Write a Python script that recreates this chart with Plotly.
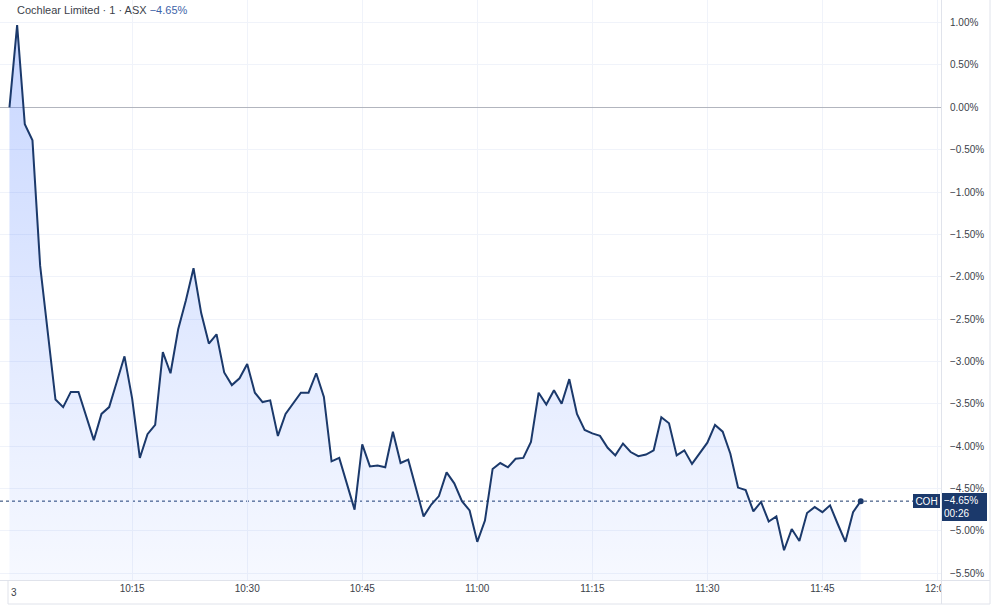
import plotly.graph_objects as go
import pandas as pd

# ---------------- data ----------------
title_name = "Cochlear Limited · 1 · ASX"
change_text = "−4.65%"
symbol = "COH"
countdown = "00:26"
day_label = "3"

start_time = "2025-01-23 09:59"
pct_change = [
    0.00, 0.97, -0.20, -0.39, -1.87, -2.69, -3.45, -3.54, -3.36, -3.36,
    -3.64, -3.93, -3.62, -3.54, -3.24, -2.94, -3.44, -4.14, -3.86, -3.75,
    -2.89, -3.14, -2.62, -2.28, -1.90, -2.43, -2.79, -2.68, -3.13, -3.28,
    -3.20, -3.03, -3.37, -3.48, -3.46, -3.88, -3.62, -3.49, -3.37, -3.37,
    -3.14, -3.42, -4.18, -4.14, -4.44, -4.75, -3.98, -4.24, -4.23, -4.25,
    -3.83, -4.20, -4.16, -4.48, -4.83, -4.69, -4.59, -4.31, -4.44, -4.65,
    -4.76, -5.13, -4.88, -4.27, -4.20, -4.25, -4.15, -4.14, -3.95, -3.37,
    -3.51, -3.34, -3.50, -3.21, -3.62, -3.81, -3.85, -3.88, -4.02, -4.11,
    -3.97, -4.07, -4.12, -4.10, -4.05, -3.66, -3.73, -4.11, -4.05, -4.21,
    -4.09, -3.96, -3.75, -3.83, -4.09, -4.49, -4.52, -4.77, -4.66, -4.89,
    -4.83, -5.23, -4.98, -5.12, -4.79, -4.72, -4.78, -4.70, -4.92, -5.13,
    -4.78, -4.65,
]
times = pd.date_range(start_time, periods=len(pct_change), freq="min")

y_ticks = [1.0, 0.5, 0.0, -0.5, -1.0, -1.5, -2.0, -2.5, -3.0, -3.5, -4.0, -4.5, -5.0, -5.5]
y_tick_labels = ["1.00%", "0.50%", "0.00%", "−0.50%", "−1.00%", "−1.50%", "−2.00%",
                 "−2.50%", "−3.00%", "−3.50%", "−4.00%", "−4.50%", "−5.00%", "−5.50%"]
x_ticks = ["2025-01-23 10:15", "2025-01-23 10:30", "2025-01-23 10:45", "2025-01-23 11:00",
           "2025-01-23 11:15", "2025-01-23 11:30", "2025-01-23 11:45", "2025-01-23 12:00"]
x_tick_labels = ["10:15", "10:30", "10:45", "11:00", "11:15", "11:30", "11:45", "12:00"]

x_range = ["2025-01-23 09:57:46", "2025-01-23 12:00:28"]
y_range = [-5.593, 1.267]

# ---------------- style ----------------
NAVY = "#1b396b"
GRID = "#f0f3fa"
BORDER = "#e0e3eb"
TEXT = "#3c3f4a"
FONT = "Liberation Sans, Arial, sans-serif"

W, H = 1000, 610
ML, MR, MT, MB = 0, 59, 0, 29
PW, PH = W - ML - MR, H - MT - MB


def px(x):
    return (x - ML) / PW


def py(y):
    return (PH + MT - y) / PH


fig = go.Figure()

fig.add_trace(go.Scatter(
    x=times, y=[y_range[0]] * len(times), mode="lines",
    line=dict(width=0, color="rgba(0,0,0,0)"), hoverinfo="skip", showlegend=False,
))
fig.add_trace(go.Scatter(
    x=times, y=pct_change, mode="lines",
    line=dict(color=NAVY, width=2),
    fill="tonexty",
    fillgradient=dict(type="vertical",
                      colorscale=[[0, "rgba(41,98,255,0.04)"], [1, "rgba(41,98,255,0.26)"]]),
    showlegend=False,
))
fig.add_trace(go.Scatter(
    x=[times[-1]], y=[pct_change[-1]], mode="markers",
    marker=dict(size=6, color=NAVY), showlegend=False,
))

fig.update_layout(
    width=W, height=H,
    margin=dict(l=ML, r=MR, t=MT, b=MB, pad=0),
    paper_bgcolor="white", plot_bgcolor="white",
    font=dict(family=FONT, size=10, color=TEXT),
    showlegend=False,
    xaxis=dict(
        type="date", range=x_range, tickvals=x_ticks, ticktext=x_tick_labels,
        showgrid=True, gridcolor=GRID, gridwidth=1, zeroline=False, showline=False,
        ticks="", tickfont=dict(size=10, color=TEXT, family=FONT), fixedrange=True,
    ),
    yaxis=dict(
        side="right", range=y_range, tickvals=y_ticks, ticktext=y_tick_labels,
        showgrid=True, gridcolor=GRID, gridwidth=1,
        zeroline=True, zerolinecolor="#b2b5be", zerolinewidth=1, showline=False,
        ticks="outside", ticklen=6, tickcolor="rgba(0,0,0,0)",
        tickfont=dict(size=10, color=TEXT, family=FONT), fixedrange=True,
    ),
)

shapes = [
    # last-value dotted line
    dict(type="line", xref="paper", yref="y", x0=0, x1=1, y0=pct_change[-1], y1=pct_change[-1],
         line=dict(color=NAVY, width=1, dash="dot"), layer="below"),
    # mask to cut the time label under the price scale
    dict(type="rect", xref="paper", yref="paper", x0=px(942), x1=px(989.5), y0=py(603.5), y1=py(581),
         fillcolor="white", line=dict(width=0), layer="above"),
    # time axis top line
    dict(type="line", xref="paper", yref="paper", x0=px(0), x1=px(990), y0=py(580.5), y1=py(580.5),
         line=dict(color=BORDER, width=1), layer="above"),
    # price scale separator
    dict(type="line", xref="paper", yref="paper", x0=px(941.5), x1=px(941.5), y0=py(604), y1=1,
         line=dict(color=BORDER, width=1), layer="above"),
    # right border
    dict(type="line", xref="paper", yref="paper", x0=px(990), x1=px(990), y0=py(604), y1=1,
         line=dict(color=BORDER, width=1), layer="above"),
    # bottom border
    dict(type="line", xref="paper", yref="paper", x0=px(8), x1=px(990), y0=py(604), y1=py(604),
         line=dict(color=BORDER, width=1), layer="above"),
    # left border of time axis
    dict(type="line", xref="paper", yref="paper", x0=px(8), x1=px(8), y0=py(580.5), y1=py(604),
         line=dict(color=BORDER, width=1), layer="above"),
]
fig.update_layout(shapes=shapes)

annotations = [
    dict(xref="paper", yref="paper", x=px(15), y=py(10), xanchor="left", yanchor="middle",
         text=f"{title_name} <span style='color:#3e63a8'>{change_text}</span>",
         showarrow=False, font=dict(size=11, color=TEXT, family=FONT)),
    dict(xref="paper", yref="paper", x=px(9), y=py(592), xanchor="left", yanchor="middle",
         text=day_label, showarrow=False, font=dict(size=10, color=TEXT, family=FONT)),
    dict(xref="paper", yref="y", x=px(940), y=pct_change[-1], xanchor="right", yanchor="middle",
         text=symbol, showarrow=False, bgcolor=NAVY, borderwidth=0, borderpad=1,
         width=25, height=12, font=dict(size=10, color="white", family=FONT)),
    dict(xref="paper", yref="y", x=px(942), y=pct_change[-1], xanchor="left", yanchor="middle",
         yshift=-6,
         text=f"{change_text}<br>{countdown}", showarrow=False, bgcolor=NAVY, borderwidth=0,
         borderpad=2, width=41, height=24, align="left",
         font=dict(size=10, color="white", family=FONT)),
]
fig.update_layout(annotations=annotations)

fig.write_html("out.html")
